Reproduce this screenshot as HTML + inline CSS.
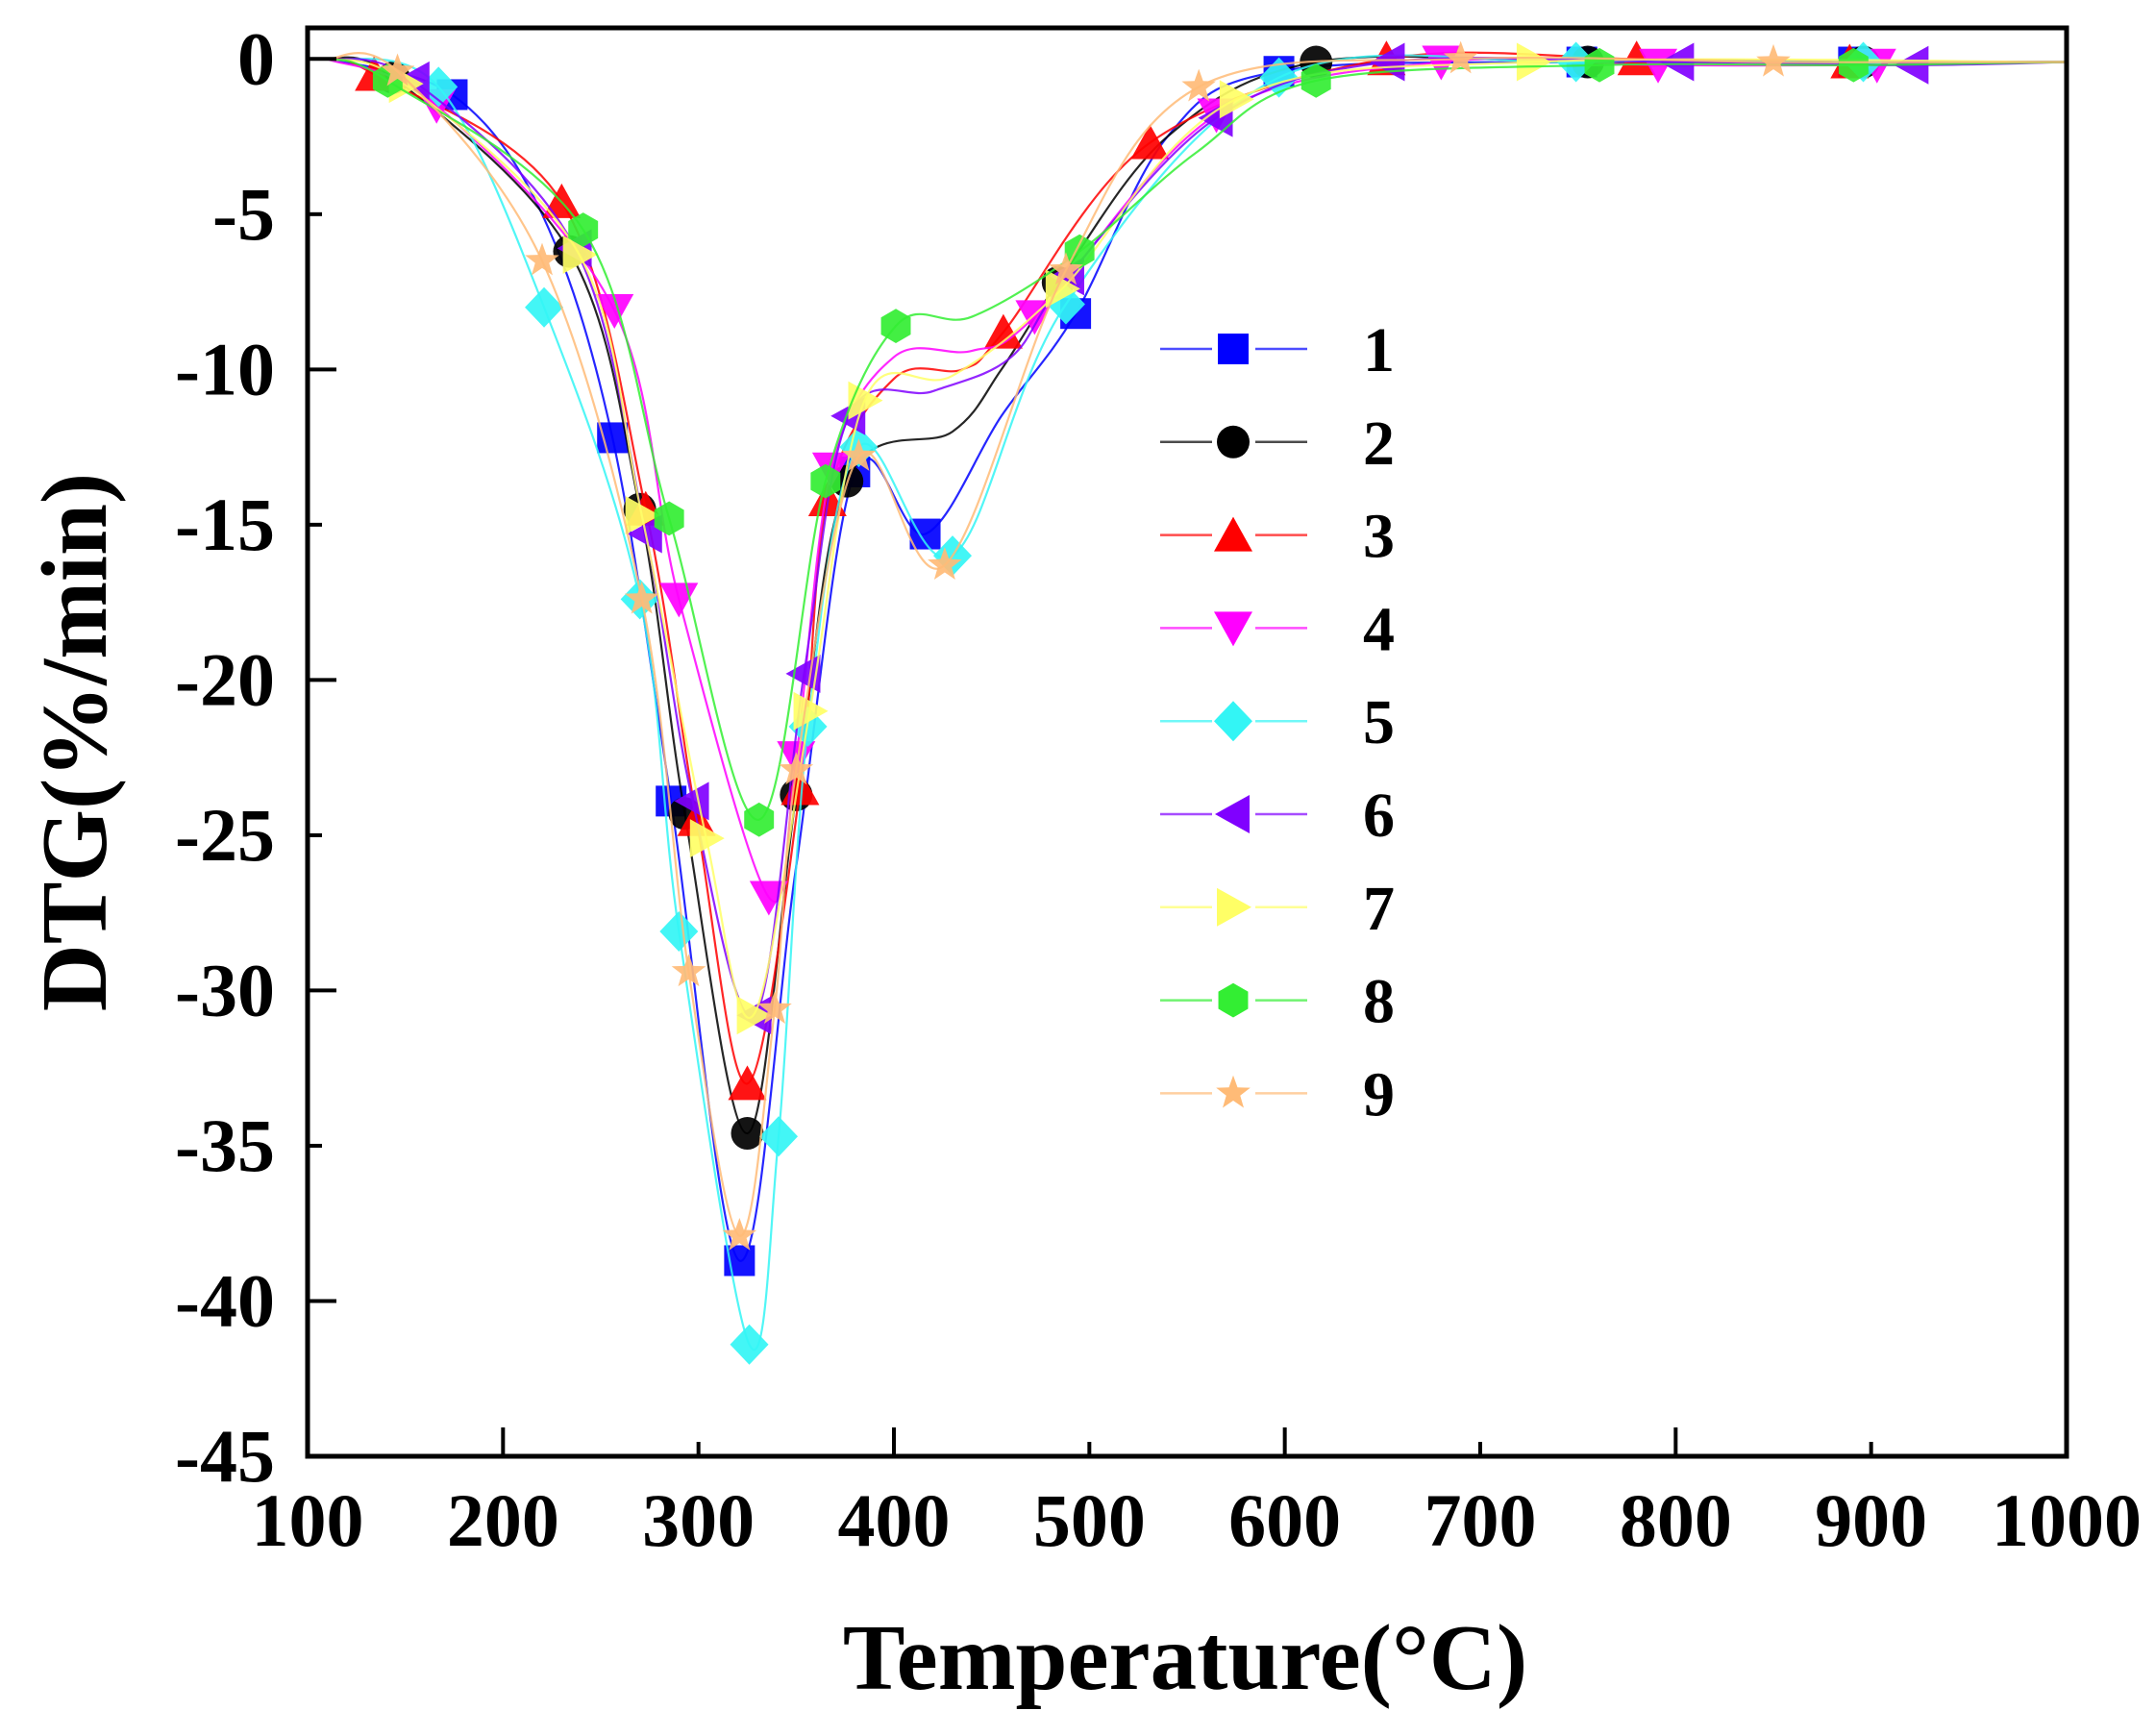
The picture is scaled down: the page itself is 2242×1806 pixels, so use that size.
<!DOCTYPE html>
<html><head><meta charset="utf-8"><style>
html,body{margin:0;padding:0;background:#fff;}
svg{display:block;}
text{font-family:"Liberation Serif",serif;font-weight:bold;fill:#000;}
</style></head><body>
<svg id="chart" width="2242" height="1806" viewBox="0 0 2242 1806" xmlns="http://www.w3.org/2000/svg">
<g id="grid"></g><g id="series"></g><g id="axes"></g><g id="legend"></g>
</svg>
<script>
const xTicks=[100,200,300,400,500,600,700,800,900,1000];
const yTicks=[0,-5,-10,-15,-20,-25,-30,-35,-40,-45];
const seriesNames=["1","2","3","4","5","6","7","8","9"];
const colors=["#0000ff","#000000","#ff0000","#ff00ff","#33f5f5","#8000ff","#ffff66","#33ee33","#ffbb77"];
const shapes=["square","circle","up","down","diamond","left","right","hex","star"];
// series data: temperature, DTG value, marker flag (1 = marker drawn)
const T1=[110,174,220,256,286,321,350,380,416,455,493,540,597,752,891,1000];
const V1=[0,-1.15,-5,-12.2,-23.9,-38.7,-26,-13.3,-15.3,-11.5,-8.2,-2.5,-0.4,-0.1,-0.1,-0.1];
const M1=[0,1,0,1,1,1,0,1,1,0,1,0,1,1,1,0];
const T2=[110,144,234,270,293,325,350,376,430,455,484,540,616,755,896,1000];
const V2=[0,-0.6,-6.2,-14.5,-24.3,-34.6,-23.7,-13.6,-12,-10,-7.2,-2.5,-0.1,-0.1,-0.1,-0.1];
const M2=[0,1,1,1,1,1,1,1,0,0,1,0,1,1,1,0];
const T3=[110,134,230,273,299,325,352,366,400,435,456,531,652,780,889,1000];
const V3=[0,-0.5,-4.6,-14.5,-24.5,-33,-23.5,-14.2,-10.3,-10,-8.8,-2.7,0,0,-0.1,-0.1];
const M3=[0,1,1,1,1,1,1,1,0,0,1,1,1,1,1,0];
const T4=[110,166,257,290,336,350,368,400,440,472,565,680,791,903,1000];
const V4=[0,-1.5,-8.1,-17.4,-27,-22.5,-13.2,-9.6,-9.4,-8.3,-1.8,-0.1,-0.2,-0.2,-0.1];
const M4=[0,1,1,1,1,1,1,0,0,1,1,1,1,1,0];
const T5=[110,167,221,270,290,326,341,356,382,430,488,597,749,896,1000];
const V5=[0,-0.9,-8,-17.4,-28.1,-41.4,-34.7,-21.5,-12.5,-16,-7.9,-0.6,-0.1,-0.1,-0.1];
const M5=[0,1,1,1,1,1,1,1,1,1,1,1,1,1,0];
const T6=[110,154,237,273,297,329,354,377,420,460,489,565,653,801,921,1000];
const V6=[0,-0.7,-6.1,-15.3,-23.9,-30.8,-19.8,-11.5,-10.7,-9.6,-7,-1.9,-0.1,-0.1,-0.2,-0.1];
const M6=[0,1,1,1,1,1,1,1,0,0,1,1,1,1,1,0];
const T7=[110,150,239,271,304,328,357,385,430,486,575,727,1000];
const V7=[0,-0.8,-6.3,-14.7,-25.1,-30.8,-21,-11,-10.2,-7.4,-1.3,-0.1,-0.1];
const M7=[0,1,1,1,1,1,1,1,0,1,1,1,0];
const T8=[110,141,241,285,331,365,401,440,495,555,616,761,891,1000];
const V8=[0,-0.7,-5.5,-14.8,-24.5,-13.6,-8.6,-8.3,-6.2,-3,-0.7,-0.2,-0.2,-0.1];
const M8=[0,1,1,1,1,1,1,0,1,0,1,1,1,0];
const T9=[110,146,220,271,295,321,339,350,382,426,488,556,690,850,1000];
const V9=[0,-0.4,-6.5,-17.4,-29.4,-37.9,-30.6,-22.9,-12.8,-16.3,-6.8,-0.9,0,-0.1,-0.1];
const M9=[0,1,1,1,1,1,1,1,1,1,1,1,1,1,0];
const allT=[T1,T2,T3,T4,T5,T6,T7,T8,T9], allV=[V1,V2,V3,V4,V5,V6,V7,V8,V9], allM=[M1,M2,M3,M4,M5,M6,M7,M8,M9];

const NS="http://www.w3.org/2000/svg";
const L=320,R=2150,TOP=29,B=1515;
const X0=100,X1=1000,Y0=-45,Y1=1;
function xs(v){return L+(v-X0)/(X1-X0)*(R-L);}
function ys(v){return B-(v-Y0)/(Y1-Y0)*(B-TOP);}
function mk(tag,attrs,parent){const e=document.createElementNS(NS,tag);for(const k in attrs)e.setAttribute(k,attrs[k]);parent.appendChild(e);return e;}
function smooth(pts){
  let d="M"+pts[0][0]+","+pts[0][1];
  for(let i=0;i<pts.length-1;i++){
    const p0=pts[Math.max(0,i-1)],p1=pts[i],p2=pts[i+1],p3=pts[Math.min(pts.length-1,i+2)];
    const t=0.5/3;
    const c1=[p1[0]+(p2[0]-p0[0])*t,p1[1]+(p2[1]-p0[1])*t];
    const c2=[p2[0]-(p3[0]-p1[0])*t,p2[1]-(p3[1]-p1[1])*t];
    d+=" C"+c1[0]+","+c1[1]+" "+c2[0]+","+c2[1]+" "+p2[0]+","+p2[1];
  }
  return d;
}
function marker(shape,cx,cy,color,parent){
  const s=17;let e;
  if(shape==="square")e=mk("rect",{x:cx-s+1,y:cy-s+1,width:2*s-2,height:2*s-2,fill:color},parent);
  else if(shape==="circle")e=mk("circle",{cx:cx,cy:cy,r:s,fill:color},parent);
  else{
    let pts=[];
    if(shape==="up")pts=[[0,-s-2],[s+3,s],[-s-3,s]];
    if(shape==="down")pts=[[0,s+2],[s+3,-s],[-s-3,-s]];
    if(shape==="left")pts=[[-s-2,0],[s,-s-3],[s,s+3]];
    if(shape==="right")pts=[[s+2,0],[-s,-s-3],[-s,s+3]];
    if(shape==="diamond")pts=[[0,-s-4],[s+3,0],[0,s+4],[-s-3,0]];
    if(shape==="hex")for(let k=0;k<6;k++){const a=Math.PI/6+k*Math.PI/3;pts.push([s*1.05*Math.cos(a),s*1.05*Math.sin(a)]);}
    if(shape==="star")for(let k=0;k<10;k++){const a=-Math.PI/2+k*Math.PI/5,r=k%2?s*0.45:s*1.1;pts.push([r*Math.cos(a),r*Math.sin(a)]);}
    e=mk("polygon",{points:pts.map(p=>(cx+p[0])+","+(cy+p[1])).join(" "),fill:color},parent);
  }
  return e;
}
const sg=document.getElementById("series");
for(let i=0;i<9;i++){
  const g=mk("g",{},sg);
  
  
  const pts=allT[i].map((t,j)=>[xs(t),ys(allV[i][j])]);
  const p=mk("path",{d:smooth(pts),fill:"none",stroke:colors[i],"stroke-width":2.2,"stroke-opacity":0.85},g);
  
  
}
for(let i=0;i<9;i++){
  const g=sg.children[i];
  allT[i].forEach((t,j)=>{ if(allM[i][j]){
    const m=marker(shapes[i],xs(t),ys(allV[i][j]),colors[i],g);
    m.setAttribute('opacity','0.92');
    
    
  }});
}
const ax=document.getElementById("axes");
const fr=mk("rect",{x:L,y:TOP,width:R-L,height:B-TOP,fill:"none",stroke:"#000","stroke-width":5},ax);


xTicks.forEach(v=>{
  const len=(v%200===0)?30:15;
  mk("line",{x1:xs(v),y1:B,x2:xs(v),y2:B-len,stroke:"#000","stroke-width":4},ax);
  const t=mk("text",{x:xs(v),y:1608,"text-anchor":"middle","font-size":78},ax);
  t.textContent=v;
  
  
});
yTicks.forEach(v=>{
  const len=(v%10===0)?30:15;
  mk("line",{x1:L,y1:ys(v),x2:L+len,y2:ys(v),stroke:"#000","stroke-width":4},ax);
  const t=mk("text",{x:286,y:ys(v)+26,"text-anchor":"end","font-size":78},ax);
  t.textContent=v;
  
  
});
const xt=mk("text",{x:1233,y:1757,"text-anchor":"middle","font-size":97},ax);
xt.textContent="Temperature(°C)";


const yt=mk("text",{x:0,y:0,"text-anchor":"middle","font-size":97,transform:"translate(110,772) rotate(-90)"},ax);
yt.textContent="DTG(%/min)";


const lg=document.getElementById("legend");
seriesNames.forEach((n,i)=>{
  const y=363+i*96.8;
  const g=mk("g",{},lg);
  
  
  mk("line",{x1:1207,y1:y,x2:1261,y2:y,stroke:colors[i],"stroke-width":2.5,"stroke-opacity":0.7},g);
  mk("line",{x1:1306,y1:y,x2:1360,y2:y,stroke:colors[i],"stroke-width":2.5,"stroke-opacity":0.7},g);
  marker(shapes[i],1283,y,colors[i],g);
  const t=mk("text",{x:1418,y:y+23,"font-size":66},g);
  t.textContent=n;
});
</script>
</body></html>
